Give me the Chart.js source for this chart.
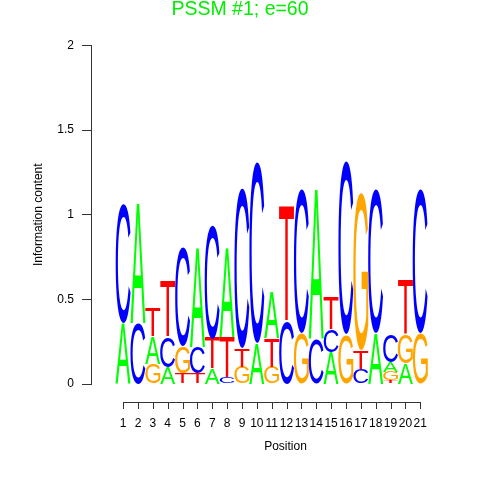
<!DOCTYPE html>
<html>
<head>
<meta charset="utf-8">
<script src="https://cdn.jsdelivr.net/npm/chart.js@4"></script>
<style>
  html,body{margin:0;padding:0;background:#fff;}
  #wrap{width:480px;height:480px;}
</style>
</head>
<body>
<div id="wrap"><canvas id="logo" width="480" height="480"></canvas></div>
<script>
// posiciones del motivo
const positions = [1,2,3,4,5,6,7,8,9,10,11,12,13,14,15,16,17,18,19,20,21];
// letras apiladas de abajo hacia arriba, una cadena por posicion
const stackLetters = ['AC','CA','GAT','ACT','TGC','TCA','ATC','CTA','GTC','AC','GTA','CT','GC','CA','ACT','GC','CTG','AC','TGAC','AGT','GC'];
// alturas (bits) en el mismo orden que las letras
const stackHeights = [
  [0.36,0.70],[0.36,0.70],[0.12,0.16,0.17],[0.10,0.18,0.33],[0.065,0.155,0.58],
  [0.065,0.155,0.58],[0.09,0.18,0.67],[0.04,0.24,0.52],[0.10,0.11,0.94],[0.24,1.07],
  [0.10,0.17,0.27],[0.37,0.68],[0.30,0.85],[0.27,0.88],[0.19,0.13,0.19],
  [0.29,1.02],[0.09,0.11,0.93],[0.30,0.85],[0.02,0.05,0.06,0.16],[0.12,0.17,0.32],[0.30,0.85]
];
const yTicks = [0,0.5,1,1.5,2];
const letterColors = {A:'#00FF00',C:'#0000FF',G:'#FFA500',T:'#FF0000'};
const FONT = 'Liberation Sans, Arial, sans-serif';

// un dataset por nivel de la pila
const nLayers = Math.max(...stackLetters.map(s=>s.length));
const datasets = [];
for(let l=0;l<nLayers;l++){
  datasets.push({
    label:'nivel '+l,
    data: positions.map((p,i)=>({x:p, y: stackHeights[i][l]||0})),
    letters: positions.map((p,i)=>stackLetters[i][l]||''),
    backgroundColor:'rgba(0,0,0,0)',
    borderWidth:0,
    barThickness:15.6,
    stack:'s'
  });
}

// dibuja cada letra estirada dentro de su barra
const glyphFont = '100px "Liberation Sans", Arial, sans-serif';
const glyphCache = {};
function glyphBox(ctx,ch){
  if(glyphCache[ch]) return glyphCache[ch];
  ctx.save();
  ctx.font = glyphFont;
  const m = ctx.measureText(ch);
  ctx.restore();
  return glyphCache[ch] = {l:m.actualBoundingBoxLeft, r:m.actualBoundingBoxRight, a:m.actualBoundingBoxAscent, d:m.actualBoundingBoxDescent};
}
const letterPlugin = {
  id:'letters',
  afterDatasetsDraw(chart){
    const ctx = chart.ctx;
    chart.data.datasets.forEach((ds,di)=>{
      const meta = chart.getDatasetMeta(di);
      meta.data.forEach((bar,i)=>{
        const ch = ds.letters[i];
        if(!ch) return;
        const p = bar.getProps(['x','y','base','width'],true);
        const h = p.base - p.y;
        if(h < 0.5) return;
        const g = glyphBox(ctx,ch);
        const gw = g.l + g.r, gh = g.a + g.d;
        const w = p.width - 0.6;
        ctx.save();
        ctx.translate(p.x - w/2, p.y);
        ctx.scale(w/gw, h/gh);
        ctx.font = glyphFont;
        ctx.textBaseline = 'alphabetic';
        ctx.fillStyle = letterColors[ch];
        ctx.fillText(ch, g.l, g.a);
        ctx.restore();
      });
    });
  }
};

// eje x propio: linea desde la posicion 1 hasta la 21
const xAxisPlugin = {
  id:'xaxis',
  afterDraw(chart){
    const ctx = chart.ctx, xs = chart.scales.x;
    const y0 = 402;
    ctx.save();
    ctx.strokeStyle = '#333'; ctx.lineWidth = 1;
    ctx.beginPath();
    ctx.moveTo(Math.round(xs.getPixelForValue(positions[0]))+0.5, y0+0.5);
    ctx.lineTo(Math.round(xs.getPixelForValue(positions[positions.length-1]))+0.5, y0+0.5);
    positions.forEach(p=>{
      const px = Math.round(xs.getPixelForValue(p))+0.5;
      ctx.moveTo(px, y0); ctx.lineTo(px, y0+7);
    });
    ctx.stroke();
    ctx.restore();
  }
};

new Chart(document.getElementById('logo'),{
  type:'bar',
  data:{datasets},
  plugins:[letterPlugin,xAxisPlugin],
  options:{
    responsive:false,
    animation:false,
    events:[],
    layout:{padding:0},
    plugins:{
      legend:{display:false},
      tooltip:{enabled:false},
      title:{display:true,text:'PSSM #1; e=60',color:'#00EE00',
        font:{family:FONT,size:19.5,weight:'normal',lineHeight:1},
        padding:{top:0,bottom:26}}
    },
    scales:{
      x:{
        type:'linear',stacked:true,
        min:1-24/15.6, max:21+53/15.6,
        afterFit(s){ s.height = 96; },
        afterBuildTicks(s){ s.ticks = positions.map(v=>({value:v})); },
        grid:{display:true,drawOnChartArea:false,color:'rgba(0,0,0,0)',tickLength:30},
        border:{display:false},
        ticks:{autoSkip:false,maxRotation:0,padding:2,color:'#000',font:{family:FONT,size:12}},
        title:{display:true,text:'Position',color:'#000',font:{family:FONT,size:12},padding:{top:0,bottom:26}}
      },
      y:{
        stacked:true,min:0,max:2,
        afterFit(s){ s.width = 91; },
        afterBuildTicks(s){ s.ticks = yTicks.map(v=>({value:v})); },
        grid:{drawOnChartArea:false,color:'#333',tickLength:9},
        border:{display:true,color:'#333'},
        ticks:{padding:8,color:'#000',font:{family:FONT,size:12},callback:v=>String(v)},
        title:{display:true,text:'Information content',color:'#000',font:{family:FONT,size:12},padding:{top:31,bottom:0}}
      }
    }
  }
});
</script>
</body>
</html>
